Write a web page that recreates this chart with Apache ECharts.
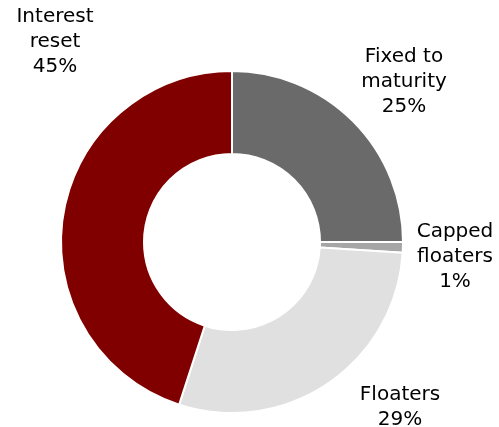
<!DOCTYPE html>
<html>
<head>
<meta charset="utf-8">
<script src="https://cdn.jsdelivr.net/npm/echarts@6/dist/echarts.min.js"></script>
<style>
  html, body { margin: 0; padding: 0; background: #fff; }
  #chart { width: 499px; height: 427px; }
</style>
</head>
<body>
<div id="chart"></div>
<script>
// Portfolio split by coupon type (% of total)
const categories = ['Fixed to\nmaturity', 'Capped\nfloaters', 'Floaters', 'Interest\nreset'];
const shares = [25, 1, 29, 45];
const sliceColors = ['#6a6a6a', '#a6a6a6', '#e0e0e0', '#800000'];

// Label anchor points (centre of each text block)
const labelAnchors = [[404, 82], [455, 257], [400, 407], [55, 42]];

const chart = echarts.init(document.getElementById('chart'), null, { renderer: 'canvas' });

chart.setOption({
  backgroundColor: '#ffffff',
  animation: false,
  series: [{
    type: 'pie',
    center: [232, 242],
    radius: [88, 171],
    startAngle: 90,
    clockwise: true,
    avoidLabelOverlap: false,
    itemStyle: { borderColor: '#ffffff', borderWidth: 2 },
    label: {
      show: true,
      position: 'outside',
      formatter: p => p.name + '\n' + p.value + '%',
      fontFamily: 'DejaVu Sans',
      fontSize: 20,
      lineHeight: 25,
      color: '#000000',
      align: 'center'
    },
    labelLine: { show: false },
    labelLayout: p => ({
      x: labelAnchors[p.dataIndex][0],
      y: labelAnchors[p.dataIndex][1],
      align: 'center',
      verticalAlign: 'middle',
      hideOverlap: false
    }),
    emphasis: { disabled: true },
    data: categories.map((name, i) => ({
      name: name,
      value: shares[i],
      itemStyle: { color: sliceColors[i] }
    }))
  }]
});
</script>
</body>
</html>
